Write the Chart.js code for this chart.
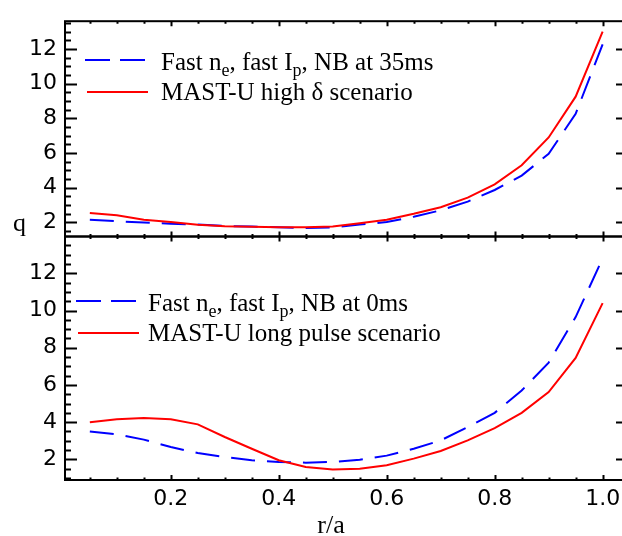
<!DOCTYPE html>
<html>
<head>
<meta charset="utf-8">
<script src="https://cdn.jsdelivr.net/npm/chart.js@4.4.1/dist/chart.umd.min.js"></script>
<style>
    html, body { margin: 0; padding: 0; background: #fff; overflow: hidden; }
    #wrap { position: relative; width: 622px; height: 536px; overflow: hidden; }
    canvas { position: absolute; left: 0; top: 0; }
</style>
</head>
<body>
<div id="wrap">
    <canvas id="graficoTopo" width="640" height="536"></canvas>
    <canvas id="graficoBase" width="640" height="536"></canvas>
</div>
<script>
// q profiles vs r/a

const rA = [0.05, 0.10, 0.15, 0.20, 0.25, 0.30, 0.35, 0.40, 0.45, 0.50,
            0.55, 0.60, 0.65, 0.70, 0.75, 0.80, 0.85, 0.90, 0.95, 1.00];

// top panel
const qFast35 = [2.15, 2.07, 2.00, 1.93, 1.88, 1.80, 1.76, 1.72, 1.68, 1.72,
                 1.88, 2.02, 2.33, 2.70, 3.20, 3.87, 4.70, 5.96, 8.26, 12.27];
const qHighDelta = [2.55, 2.42, 2.16, 2.02, 1.87, 1.78, 1.75, 1.72, 1.72, 1.76,
                    1.95, 2.16, 2.50, 2.88, 3.43, 4.20, 5.30, 6.90, 9.25, 13.0];

// bottom panel
const qFast0 = [3.50, 3.35, 3.06, 2.66, 2.34, 2.12, 1.95, 1.86, 1.82, 1.86,
                1.98, 2.20, 2.57, 3.02, 3.73, 4.50, 5.70, 7.20, 9.65, 12.8];
const qLongPulse = [4.00, 4.15, 4.22, 4.15, 3.88, 3.20, 2.57, 1.95, 1.59, 1.45,
                    1.50, 1.68, 2.04, 2.45, 3.02, 3.68, 4.50, 5.62, 7.45, 10.4];

const xTicks = [0.2, 0.4, 0.6, 0.8, 1.0];
const yTicks = [2, 4, 6, 8, 10, 12];

const legendTopo = [
    ["Fast n", { sub: "e" }, ", fast I", { sub: "p" }, ", NB at 35ms"],
    ["MAST-U high δ scenario"]
];
const legendBase = [
    ["Fast n", { sub: "e" }, ", fast I", { sub: "p" }, ", NB at 0ms"],
    ["MAST-U long pulse scenario"]
];

const AZUL = "#0000ff";
const VERMELHO = "#ff0000";
const DASH = [24, 12];
const SERIF = '"Liberation Serif", "Times New Roman", serif';
const SANS = '"DejaVu Sans", sans-serif';

const pts = arr => rA.map((r, i) => ({ x: r, y: arr[i] }));

// frame + inward ticks, IDL style
const moldura = {
    id: "moldura",
    afterDatasetsDraw(chart) {
        const { ctx, chartArea: a, scales: { x, y } } = chart;
        ctx.save();
        ctx.strokeStyle = "#000";
        ctx.lineWidth = 2;
        ctx.strokeRect(a.left, a.top, a.right - a.left, a.bottom - a.top);
        ctx.beginPath();
        for (let v = Math.ceil(y.min * 2) / 2; v < y.max; v += 0.5) {
            const py = Math.round(y.getPixelForValue(v)) + 0.5;
            const len = yTicks.includes(v) ? 12 : 6;
            ctx.moveTo(a.left, py); ctx.lineTo(a.left + len, py);
            ctx.moveTo(a.right, py); ctx.lineTo(a.right - len, py);
        }
        for (let i = 1; i * 0.05 < x.max; i++) {
            const px = Math.round(x.getPixelForValue(i * 0.05)) + 0.5;
            const len = i % 4 === 0 ? 5 : 2.5;
            ctx.moveTo(px, a.top); ctx.lineTo(px, a.top + len);
            ctx.moveTo(px, a.bottom); ctx.lineTo(px, a.bottom - len);
        }
        ctx.stroke();
        ctx.restore();
    }
};

function textoComposto(ctx, partes, x, base, size) {
    let cx = x;
    partes.forEach(p => {
        if (typeof p === "string") {
            ctx.font = size + "px " + SERIF;
            ctx.fillText(p, cx, base);
            cx += ctx.measureText(p).width;
        } else {
            ctx.font = Math.round(size * 0.7) + "px " + SERIF;
            ctx.fillText(p.sub, cx, base + 6);
            cx += ctx.measureText(p.sub).width;
        }
    });
}

function legenda(cfg) {
    return {
        id: "legenda",
        afterDraw(chart) {
            const ctx = chart.ctx;
            ctx.save();
            ctx.fillStyle = "#000";
            ctx.textBaseline = "alphabetic";
            ctx.textAlign = "left";
            cfg.linhas.forEach((l, i) => {
                ctx.beginPath();
                ctx.strokeStyle = l.cor;
                ctx.lineWidth = 2;
                ctx.setLineDash(l.dash);
                ctx.moveTo(l.x0, l.y); ctx.lineTo(l.x1, l.y);
                ctx.stroke();
                ctx.setLineDash([]);
                textoComposto(ctx, cfg.textos[i], cfg.tx, l.base, 25);
            });
            if (cfg.extra) cfg.extra(ctx);
            ctx.restore();
        }
    };
}

function escalaY(min, max) {
    return {
        min: min, max: max,
        grid: { display: false, drawTicks: false },
        border: { display: false },
        afterFit: s => { s.width = 65; },
        afterBuildTicks: s => { s.ticks = yTicks.map(v => ({ value: v })); },
        ticks: { color: "#000", padding: 8, font: { family: SANS, size: 22 } }
    };
}

function dados(azul, vermelho) {
    return {
        datasets: [
            { data: pts(azul), borderColor: AZUL, borderWidth: 2, borderDash: DASH,
              pointRadius: 0, tension: 0, order: 1 },
            { data: pts(vermelho), borderColor: VERMELHO, borderWidth: 2,
              pointRadius: 0, tension: 0, order: 0 }
        ]
    };
}

const comum = {
    responsive: false,
    animation: false,
    plugins: { legend: { display: false }, tooltip: { enabled: false } }
};

// Painel superior
new Chart(document.getElementById("graficoTopo"), {
    type: "line",
    data: dados(qFast35, qHighDelta),
    options: {
        ...comum,
        layout: { padding: { left: 0, right: 12, top: 11, bottom: 299.5 } },
        scales: {
            x: { type: "linear", min: 0.004, max: 1.047, display: false },
            y: escalaY(1.19, 13.6)
        }
    },
    plugins: [moldura, legenda({
        tx: 161,
        textos: legendTopo,
        linhas: [
            { cor: AZUL, dash: [25, 10], x0: 85, x1: 147, y: 60, base: 69.5 },
            { cor: VERMELHO, dash: [], x0: 87, x1: 148, y: 92, base: 100 }
        ],
        extra: ctx => {
            ctx.font = "26px " + SERIF;
            ctx.fillText("q", 13, 231);
        }
    })]
});

// Painel inferior
new Chart(document.getElementById("graficoBase"), {
    type: "line",
    data: dados(qFast0, qLongPulse),
    options: {
        ...comum,
        layout: { padding: { left: 0, right: 12, top: 236.5, bottom: 0 } },
        scales: {
            x: {
                type: "linear", min: 0.004, max: 1.047,
                grid: { display: false, drawTicks: false },
                border: { display: false },
                afterFit: s => { s.height = 56; },
                afterBuildTicks: s => { s.ticks = xTicks.map(v => ({ value: v })); },
                ticks: { color: "#000", padding: 6, maxRotation: 0,
                         font: { family: SANS, size: 22 },
                         callback: v => v.toFixed(1) }
            },
            y: escalaY(0.89, 13.98)
        }
    },
    plugins: [moldura, legenda({
        tx: 148,
        textos: legendBase,
        linhas: [
            { cor: AZUL, dash: [25, 10], x0: 76, x1: 137, y: 301, base: 311 },
            { cor: VERMELHO, dash: [], x0: 78, x1: 139, y: 333, base: 341 }
        ],
        extra: ctx => {
            ctx.font = "26px " + SERIF;
            ctx.textAlign = "center";
            ctx.fillText("r/a", 331, 533);
        }
    })]
});
</script>
</body>
</html>
